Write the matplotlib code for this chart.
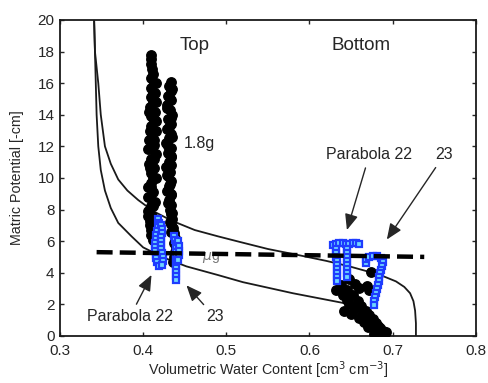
import matplotlib
matplotlib.use("Agg")
import matplotlib.pyplot as plt

plt.rcParams['font.family'] = ['Liberation Sans', 'DejaVu Sans']

# retention curves
upper_x = [0.341, 0.342, 0.344, 0.346, 0.349, 0.354, 0.361, 0.370, 0.381, 0.394, 0.412, 0.434,
           0.462, 0.490, 0.516, 0.550, 0.588, 0.620, 0.648, 0.672, 0.690, 0.704, 0.714, 0.721,
           0.725, 0.727, 0.728, 0.728]
upper_y = [20.0, 18.0, 17.0, 16.0, 14.0, 12.0, 10.9, 9.9, 9.2, 8.6, 7.9, 7.3,
           6.7, 6.3, 5.95, 5.5, 5.1, 4.75, 4.4, 4.05, 3.75, 3.45, 3.1, 2.7,
           2.2, 1.6, 0.8, 0.0]
lower_x = [0.341, 0.342, 0.343, 0.344, 0.346, 0.349, 0.354, 0.361, 0.370, 0.386, 0.400, 0.425,
           0.452, 0.490, 0.520, 0.580, 0.639, 0.660, 0.673, 0.681, 0.686, 0.688]
lower_y = [20.0, 18.0, 16.0, 14.0, 12.0, 10.5, 9.2, 8.1, 7.15, 6.3, 5.6, 4.95,
           4.4, 3.85, 3.4, 2.7, 2.1, 1.8, 1.4, 0.9, 0.4, 0.0]

# dashed level
dash_x = [0.344, 0.738]
dash_y = [5.3, 5.0]

# measured data, top sensor (black dots)
top1_y = [17.8, 17.5, 17.2, 16.9, 16.6, 16.3, 16.0, 15.7, 15.4, 15.1, 14.8, 14.5, 14.2, 13.9,
          13.6, 13.3, 13.0, 12.7, 12.4, 12.1, 11.8, 11.5, 11.2, 10.9, 10.6, 10.3, 10.0, 9.7,
          9.4, 9.1, 8.8, 8.5, 8.2, 7.9, 7.6, 7.3, 7.0, 6.7, 6.4, 6.1]
top1_x = [0.409, 0.410, 0.409, 0.411, 0.412, 0.410, 0.413, 0.409, 0.414, 0.410, 0.412, 0.408,
          0.414, 0.410, 0.413, 0.409, 0.415, 0.411, 0.407, 0.413, 0.409, 0.415, 0.410, 0.407,
          0.413, 0.409, 0.415, 0.410, 0.406, 0.412, 0.408, 0.414, 0.409, 0.406, 0.411, 0.408,
          0.413, 0.409, 0.410, 0.412]
top1b_y = [16.0, 15.4, 14.8, 14.2, 13.6, 13.0, 12.4, 11.8, 11.2, 10.6, 10.0, 9.4, 8.8, 8.2,
           7.6, 7.0]
top1b_x = [0.415, 0.412, 0.416, 0.407, 0.416, 0.408, 0.413, 0.406, 0.413, 0.408, 0.412, 0.410,
           0.406, 0.412, 0.406, 0.408]
top2_y = [16.1, 15.8, 15.5, 15.2, 14.9, 14.6, 14.3, 14.0, 13.7, 13.4, 13.1, 12.8, 12.5, 12.2,
          11.9, 11.6, 11.3, 11.0, 10.7, 10.4, 10.1, 9.8, 9.5, 9.2, 8.9, 8.6, 8.3, 8.0, 7.7, 7.4,
          7.1, 6.8, 6.5, 6.2, 5.9, 5.6, 5.3, 5.0, 4.7]
top2_x = [0.433, 0.431, 0.434, 0.430, 0.433, 0.429, 0.432, 0.435, 0.430, 0.433, 0.429, 0.434,
          0.431, 0.428, 0.433, 0.430, 0.434, 0.431, 0.428, 0.432, 0.430, 0.434, 0.431, 0.429,
          0.433, 0.431, 0.434, 0.432, 0.433, 0.435, 0.434, 0.436, 0.437, 0.438, 0.437, 0.439,
          0.438, 0.437, 0.436]
top2b_y = [15.6, 15.0, 14.4, 13.8, 13.2, 12.6, 12.0, 11.4, 10.8, 10.2, 9.6, 9.0, 8.4, 7.8,
           7.2, 6.6]
top2b_x = [0.435, 0.432, 0.429, 0.434, 0.431, 0.435, 0.430, 0.433, 0.434, 0.429, 0.432, 0.434,
           0.430, 0.435, 0.432, 0.434]

# measured data, bottom sensor (black dots)
bot_x = [0.648, 0.638, 0.655, 0.632, 0.645, 0.660, 0.640, 0.652, 0.645, 0.658, 0.648, 0.662,
         0.655, 0.668, 0.664, 0.672, 0.676, 0.672, 0.680, 0.676, 0.685, 0.680, 0.688, 0.684,
         0.690, 0.678, 0.692, 0.686, 0.642, 0.650, 0.660, 0.666, 0.670, 0.682, 0.674, 0.672,
         0.669]
bot_y = [3.6, 3.2, 3.3, 2.9, 2.9, 3.0, 2.6, 2.6, 2.3, 2.2, 2.0, 1.9,
         1.7, 1.6, 1.4, 1.3, 1.1, 0.9, 0.8, 0.6, 0.5, 0.35, 0.3, 0.15,
         0.1, 0.1, 0.25, 0.05, 1.6, 1.4, 1.15, 0.9, 0.55, 0.6, 4.05, 2.9,
         3.15]

# parabola fits (blue squares)
p22t_x = [0.418, 0.419, 0.418, 0.417, 0.416, 0.415, 0.414, 0.414, 0.414, 0.415, 0.416, 0.417,
          0.419, 0.422, 0.423, 0.423, 0.422, 0.421, 0.421, 0.422, 0.423, 0.424, 0.424, 0.423]
p22t_y = [7.4, 7.15, 6.9, 6.65, 6.4, 6.15, 5.9, 5.65, 5.4, 5.15, 4.9, 4.65, 4.4,
          7.0, 6.75, 6.5, 6.25, 6.0, 5.75, 5.5, 5.25, 5.0, 4.75, 4.5]
p23t_x = [0.437, 0.438, 0.439, 0.440, 0.440, 0.440, 0.440, 0.440, 0.440, 0.439, 0.439, 0.439,
          0.442, 0.443, 0.443, 0.443, 0.442]
p23t_y = [6.3, 6.05, 5.8, 5.55, 5.3, 5.05, 4.8, 4.55, 4.3, 4.05, 3.8, 3.55,
          6.0, 5.7, 5.4, 5.1, 4.8]
p22b_x = [0.628, 0.632, 0.636, 0.640, 0.644, 0.648, 0.652, 0.656, 0.660,
          0.632, 0.632, 0.632, 0.633, 0.633, 0.633, 0.633, 0.633, 0.633,
          0.645, 0.645, 0.645, 0.645, 0.645, 0.645, 0.645, 0.645]
p22b_y = [5.75, 5.8, 5.85, 5.85, 5.8, 5.8, 5.85, 5.85, 5.8,
          5.5, 5.25, 5.0, 4.75, 4.5, 4.25, 4.0, 3.75, 3.5,
          5.5, 5.25, 5.0, 4.75, 4.5, 4.25, 4.0, 3.75]
p23b_x = [0.668, 0.668, 0.671, 0.676, 0.681, 0.686, 0.688, 0.687, 0.686, 0.685, 0.684,
          0.683, 0.682, 0.681, 0.680, 0.679, 0.678, 0.677]
p23b_y = [4.6, 4.85, 5.0, 5.05, 5.05, 4.95, 4.7, 4.45, 4.2, 3.95, 3.7,
          3.45, 3.2, 2.95, 2.7, 2.45, 2.2, 1.95]

txt = '#262626'

fig = plt.figure(figsize=(4.88, 3.83), dpi=100)
ax = fig.add_axes([0.123, 0.123, 0.852, 0.825])

ax.plot(upper_x, upper_y, color='#1a1a1a', lw=1.3, zorder=2)
ax.plot(lower_x, lower_y, color='#1a1a1a', lw=1.3, zorder=2)

dot = dict(marker='o', ls='none', color='black', ms=6.8, zorder=3)
ax.plot(top1_x, top1_y, **dot)
ax.plot(top1b_x, top1b_y, **dot)
ax.plot(top2_x, top2_y, **dot)
ax.plot(top2b_x, top2b_y, **dot)
ax.plot(bot_x, bot_y, **dot)

sq = dict(marker='s', ls='none', ms=4.4, mfc='#6fd6ff', mec='#1e3cff', mew=1.6, zorder=4)
ax.plot(p22t_x, p22t_y, **sq)
ax.plot(p23t_x, p23t_y, **sq)
ax.plot(p22b_x, p22b_y, **sq)
ax.plot(p23b_x, p23b_y, **sq)

ax.text(0.481, 4.95, r'$\mu$g', color='#777777', fontsize=10, ha='center', va='center', zorder=4)
ax.plot(dash_x, dash_y, color='black', lw=3.2, dashes=(3.6, 1.6), zorder=5)

ax.text(0.462, 18.4, 'Top', color=txt, fontsize=13.5, ha='center', va='center')
ax.text(0.662, 18.4, 'Bottom', color=txt, fontsize=13.5, ha='center', va='center')
ax.text(0.467, 12.2, '1.8g', color=txt, fontsize=11.5, ha='center', va='center')

arr = dict(arrowstyle='-|>,head_length=0.6,head_width=0.25', color='#262626', lw=1.0,
           mutation_scale=16, shrinkA=2, shrinkB=0)
ax.annotate('Parabola 22', xy=(0.410, 3.86), xytext=(0.384, 1.2), color=txt, fontsize=11.5,
            ha='center', va='center', arrowprops=arr)
ax.annotate('23', xy=(0.452, 3.2), xytext=(0.486, 1.2), color=txt, fontsize=11.5,
            ha='center', va='center', arrowprops=arr)
ax.annotate('Parabola 22', xy=(0.645, 6.7), xytext=(0.672, 11.45), color=txt, fontsize=11.5,
            ha='center', va='center', arrowprops=arr)
ax.annotate('23', xy=(0.693, 6.1), xytext=(0.762, 11.45), color=txt, fontsize=11.5,
            ha='center', va='center', arrowprops=arr)

ax.set_xlim(0.3, 0.8)
ax.set_ylim(0, 20)
ax.set_xticks([0.3, 0.4, 0.5, 0.6, 0.7, 0.8])
ax.set_yticks(range(0, 21, 2))
ax.tick_params(direction='in', top=True, right=True, length=3, width=1,
               labelsize=11, colors='#262626')
ax.tick_params(axis='x', pad=6)
ax.tick_params(axis='y', pad=4)
for s in ax.spines.values():
    s.set_linewidth(1.3)
    s.set_color('#1a1a1a')

ax.set_xlabel(r'Volumetric Water Content [cm$^{3}$ cm$^{-3}$]', fontsize=10.3, color=txt,
              labelpad=1)
ax.set_ylabel('Matric Potential [-cm]', fontsize=10.3, color=txt, labelpad=10)

fig.savefig('out.png', dpi=100)
